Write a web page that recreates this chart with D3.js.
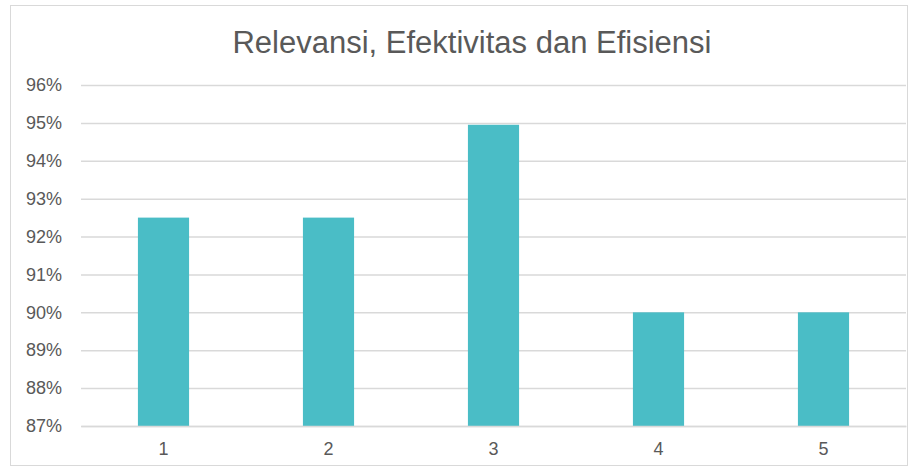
<!DOCTYPE html>
<html><head><meta charset="utf-8">
<script src="https://cdn.jsdelivr.net/npm/d3@7"></script>
<style>body{margin:0;background:#fff}svg{display:block}</style>
</head><body><svg id="c" width="918" height="470"></svg>
<script>
const categories = ["1","2","3","4","5"];
const values = [0.925, 0.925, 0.9495, 0.90, 0.90];
const yTicks = [0.87,0.88,0.89,0.90,0.91,0.92,0.93,0.94,0.95,0.96];
const title = "Relevansi, Efektivitas dan Efisiensi";

const svg = d3.select("#c");
const W = 918, H = 470;
const m = {left:81, right:12, top:85, bottom:44};
svg.append("rect").attr("x",10.5).attr("y",5.5).attr("width",W-21).attr("height",H-10)
  .attr("fill","#fff").attr("stroke","#d9d9d9");
const x = d3.scaleBand().domain(categories).range([m.left, W-m.right]).paddingInner(0.69).paddingOuter(0.345);
const y = d3.scaleLinear().domain([0.87,0.96]).range([H-m.bottom, m.top]);

svg.append("text").attr("x",472).attr("y",53).attr("text-anchor","middle")
  .attr("font-family","Liberation Sans, Arial, sans-serif").attr("font-size",31).attr("fill","#595959").text(title);

const ya = svg.append("g").attr("transform",`translate(${m.left},0)`)
  .call(d3.axisLeft(y).tickValues(yTicks).tickFormat(d3.format(".0%")).tickSize(-(W-m.right-m.left)).tickPadding(19));
ya.select(".domain").remove();
ya.selectAll("line").attr("stroke","#d9d9d9").attr("stroke-width",1.5);
ya.selectAll("text").attr("font-family","Liberation Sans, Arial, sans-serif").attr("font-size",18).attr("fill","#595959");

svg.append("g").selectAll("rect").data(values).join("rect")
  .attr("x",(d,i)=>x(categories[i])).attr("width",x.bandwidth())
  .attr("y",d=>y(d)).attr("height",d=>y(0.87)-y(d)).attr("fill","#4abdc6");

const xa = svg.append("g").attr("transform",`translate(0,${H-m.bottom})`)
  .call(d3.axisBottom(x).tickSize(0).tickPadding(16));
xa.select(".domain").attr("stroke","#d9d9d9").attr("stroke-width",1.5);
xa.selectAll("text").attr("font-family","Liberation Sans, Arial, sans-serif").attr("font-size",18).attr("fill","#595959");
</script></body></html>
